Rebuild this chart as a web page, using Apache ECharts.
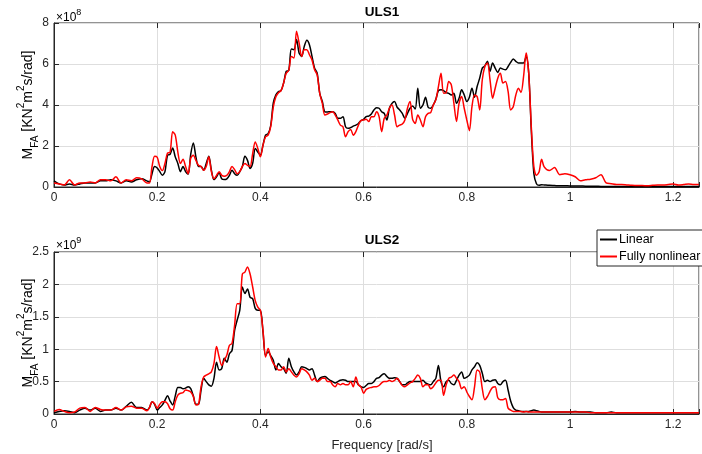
<!DOCTYPE html>
<html>
<head>
<meta charset="utf-8">
<script src="https://cdn.jsdelivr.net/npm/echarts@6/dist/echarts.min.js"></script>
<style>
  html, body { margin: 0; padding: 0; background: #fff; }
  #chart { width: 702px; height: 454px; }
</style>
</head>
<body>
<div id="chart"></div>
<script>
// Frequency grid [rad/s]: 0.01 spacing outside the wave band, 0.005 inside it
function grid(start, count, step) {
  const out = [];
  for (let i = 0; i < count; i++) out.push(+(start + i * step).toFixed(3));
  return out;
}
const freqLow = grid(0, 18, 0.01);      // 0 .. 0.17
const freqMid = grid(0.18, 155, 0.005); // 0.18 .. 0.95
const freqHigh = grid(0.96, 30, 0.01);  // 0.96 .. 1.25
const freq = freqLow.concat(freqMid, freqHigh);

// ULS1 fore-aft moment spectrum, units of 1e8 kN^2 m^2 s/rad
const uls1LinearLow = [0.3,0.15,0.1,0.15,0.1,0.15,0.2,0.2,0.2,0.3,0.3,0.35,0.3,0.2,0.3,0.25,0.35,0.4];
const uls1LinearMid = [
  0.3,0.25,0.65,1.0,0.93,0.75,0.57,0.75,1.55,1.6,
  1.9,1.47,1.15,0.75,1.0,0.75,0.62,1.6,2.15,1.47,
  1.0,1.0,0.82,1.15,1.5,0.82,0.36,0.5,0.7,0.4,
  0.36,0.4,0.57,0.82,0.65,0.57,0.75,1.0,1.5,1.3,
  0.9,1.15,1.88,1.71,1.55,2.04,2.53,2.6,3.0,4.1,
  4.5,4.66,4.7,5.07,5.64,5.69,6.73,6.7,7.19,6.54,
  6.37,6.86,7.16,6.94,6.37,5.8,5.55,4.57,4.17,3.67,
  3.66,3.67,3.67,3.59,3.35,3.35,3.43,2.94,2.86,2.9,
  2.97,3.02,3.1,3.24,3.3,3.43,3.46,3.56,3.76,3.87,
  3.84,3.67,3.59,3.27,3.84,4.08,4.17,3.89,3.76,3.59,
  3.35,3.59,3.84,3.95,3.8,4.82,3.84,4.0,4.38,3.89,
  3.84,4.0,4.28,4.7,4.74,4.7,4.6,4.57,4.49,4.57,
  4.08,4.33,4.74,4.49,4.17,4.38,4.82,4.38,4.9,5.31,
  5.8,5.91,6.13,5.64,6.05,5.8,5.59,5.8,5.75,5.72,
  5.88,6.08,6.24,6.13,6.05,6.05,6.05,6.37,5.55,2.78,
  0.65,0.16,0.08,0.11,0.1
];
const uls1LinearHigh = [0.08,0.07,0.06,0.06,0.05,0.05,0.05,0.04,0.04,0.04,
  0.03,0.03,0.03,0.03,0.03,0.03,0.03,0.03,0.03,0.03,
  0.03,0.03,0.03,0.03,0.03,0.03,0.03,0.03,0.03,0.03];

const uls1NonlinearLow = [0.2,0.15,0.1,0.35,0.1,0.2,0.2,0.25,0.2,0.35,0.35,0.3,0.5,0.2,0.35,0.3,0.45,0.4];
const uls1NonlinearMid = [
  0.2,0.2,1.0,1.5,1.45,1.0,0.8,1.15,1.65,1.7,
  2.7,2.53,1.7,1.15,1.35,1.0,0.65,1.4,1.55,1.3,
  1.06,1.0,0.82,1.0,1.47,0.75,0.4,0.57,0.75,0.57,
  0.52,0.57,0.75,1.0,0.85,0.65,0.75,1.0,1.15,1.06,
  1.0,1.63,2.2,1.88,1.47,2.04,2.45,2.53,2.94,3.9,
  4.4,4.6,4.7,5.07,5.55,5.69,6.37,6.29,7.6,7.03,
  6.37,6.7,6.7,6.45,6.2,5.72,5.47,4.57,4.08,3.51,
  3.56,3.63,3.67,3.51,3.27,3.02,2.94,2.45,2.7,2.81,
  2.53,2.7,3.02,3.24,3.27,3.3,3.19,3.43,3.43,3.67,
  3.43,2.7,3.35,3.51,3.84,4.0,3.51,2.94,3.02,3.07,
  3.27,3.84,4.17,3.3,3.1,3.51,3.27,2.94,3.43,3.59,
  3.63,4.0,4.25,4.9,5.55,4.57,4.6,5.15,4.98,4.08,
  3.2,4.08,4.41,3.84,3.27,2.75,3.92,4.49,4.41,3.76,
  5.23,5.88,6.05,5.23,4.33,4.82,5.31,5.55,5.07,5.15,
  4.66,3.76,3.92,4.49,4.82,4.61,5.39,6.54,5.55,2.94,
  0.98,0.57,0.73,1.35,0.98
];
const uls1NonlinearHigh = [0.8,0.95,0.6,0.65,0.6,0.5,0.3,0.35,0.38,0.45,
  0.6,0.2,0.16,0.12,0.12,0.1,0.08,0.07,0.07,0.06,
  0.08,0.1,0.1,0.12,0.15,0.1,0.12,0.15,0.12,0.12];

// ULS2 fore-aft moment spectrum, units of 1e9 kN^2 m^2 s/rad
const uls2LinearLow = [0.02,0.04,0.05,0.04,0.02,0.06,0.09,0.06,0.09,0.04,0.06,0.06,0.09,0.06,0.12,0.18,0.1,0.1];
const uls2LinearMid = [
  0.06,0.1,0.19,0.15,0.06,0.1,0.14,0.21,0.28,0.2,
  0.14,0.28,0.41,0.41,0.39,0.4,0.42,0.39,0.28,0.15,
  0.15,0.37,0.55,0.5,0.45,0.43,0.55,0.8,0.68,0.7,
  0.86,0.8,0.93,0.98,1.29,1.45,1.6,1.96,1.86,1.93,
  1.8,1.78,1.63,1.6,1.6,1.27,0.9,0.96,0.9,0.83,
  0.68,0.78,0.73,0.7,0.63,0.86,0.73,0.65,0.6,0.65,
  0.73,0.72,0.7,0.68,0.7,0.6,0.5,0.55,0.57,0.58,
  0.55,0.52,0.5,0.48,0.5,0.52,0.53,0.52,0.5,0.5,
  0.5,0.5,0.45,0.42,0.41,0.44,0.47,0.47,0.5,0.55,
  0.56,0.6,0.62,0.58,0.55,0.55,0.56,0.55,0.5,0.45,
  0.45,0.48,0.5,0.5,0.5,0.5,0.5,0.52,0.48,0.46,
  0.45,0.5,0.55,0.75,0.5,0.42,0.5,0.52,0.47,0.45,
  0.52,0.6,0.65,0.55,0.57,0.6,0.68,0.73,0.79,0.75,
  0.63,0.5,0.52,0.5,0.52,0.53,0.47,0.45,0.5,0.52,
  0.37,0.2,0.1,0.06,0.05,0.04,0.04,0.04,0.04,0.05,
  0.06,0.05,0.04,0.03,0.03
];
const uls2LinearHigh = [0.03,0.03,0.03,0.03,0.03,0.04,0.03,0.03,0.03,0.02,
  0.02,0.02,0.03,0.02,0.02,0.02,0.02,0.02,0.02,0.02,
  0.02,0.02,0.02,0.02,0.02,0.02,0.02,0.02,0.02,0.02];

const uls2NonlinearLow = [0.04,0.07,0.04,0.02,0.03,0.09,0.1,0.04,0.1,0.07,0.06,0.06,0.1,0.06,0.11,0.12,0.09,0.09];
const uls2NonlinearMid = [
  0.05,0.1,0.19,0.16,0.09,0.15,0.19,0.19,0.16,0.08,
  0.06,0.19,0.29,0.32,0.33,0.37,0.36,0.34,0.27,0.14,
  0.15,0.42,0.57,0.6,0.62,0.65,0.78,1.04,0.88,0.75,
  0.83,0.91,1.06,1.09,1.37,1.7,1.7,2.16,2.19,2.27,
  2.16,1.96,1.75,1.65,1.6,1.29,0.88,1.01,0.88,0.78,
  0.73,0.68,0.68,0.73,0.65,0.7,0.65,0.6,0.57,0.62,
  0.7,0.68,0.65,0.6,0.52,0.55,0.5,0.52,0.55,0.55,
  0.5,0.5,0.45,0.42,0.47,0.45,0.47,0.45,0.45,0.5,
  0.42,0.57,0.45,0.42,0.32,0.38,0.4,0.41,0.42,0.42,
  0.44,0.48,0.5,0.5,0.52,0.5,0.52,0.55,0.5,0.44,
  0.42,0.45,0.48,0.5,0.55,0.6,0.55,0.42,0.45,0.45,
  0.39,0.42,0.48,0.52,0.52,0.29,0.45,0.55,0.57,0.6,
  0.55,0.5,0.39,0.42,0.34,0.27,0.22,0.42,0.68,0.65,
  0.39,0.22,0.27,0.35,0.41,0.42,0.25,0.22,0.22,0.24,
  0.09,0.06,0.04,0.04,0.04,0.04,0.03,0.04,0.03,0.03,
  0.03,0.03,0.03,0.03,0.03
];
const uls2NonlinearHigh = [0.03,0.03,0.03,0.03,0.03,0.03,0.03,0.03,0.02,0.02,
  0.02,0.02,0.02,0.02,0.02,0.02,0.02,0.02,0.02,0.02,
  0.02,0.02,0.02,0.02,0.02,0.02,0.02,0.02,0.02,0.02];

// Tick positions
const freqTicks = [0, 0.2, 0.4, 0.6, 0.8, 1, 1.2];
const uls1Ticks = [0, 2, 4, 6, 8];
const uls2Ticks = [0, 0.5, 1, 1.5, 2, 2.5];

const seriesNames = ['Linear', 'Fully nonlinear'];
const seriesColors = ['#000000', '#ff0000'];

function pairs(low, mid, high) {
  const vals = low.concat(mid, high);
  if (vals.length !== freq.length) throw new Error('length mismatch ' + vals.length + ' vs ' + freq.length);
  return freq.map((f, i) => [f, vals[i]]);
}

const FONT = '"Liberation Sans", Arial, Helvetica, sans-serif';
const INK = '#262626';
const GRIDLINE = '#dedede';
const X_MAX = 1.25;

function xAxisFor(gridIndex, position) {
  const bottom = position === 'bottom';
  return {
    type: 'value', gridIndex, position, min: 0, max: X_MAX, interval: 0.2,
    axisLine: { show: bottom, lineStyle: { color: INK, width: 1 } },
    axisTick: { show: true, inside: true, length: 5, lineStyle: { color: INK } },
    axisLabel: {
      show: bottom, margin: 5, color: INK, fontFamily: FONT, fontSize: 12,
      formatter: v => freqTicks.some(t => Math.abs(t - v) < 1e-9) ? String(v) : ''
    },
    splitLine: { show: bottom, lineStyle: { color: GRIDLINE, width: 1 } }
  };
}

function yAxisFor(gridIndex, ticks) {
  return {
    type: 'value', gridIndex, min: ticks[0], max: ticks[ticks.length - 1],
    interval: ticks[1] - ticks[0],
    axisLine: { show: true, lineStyle: { color: INK, width: 1 } },
    axisTick: { show: true, inside: true, length: 5, lineStyle: { color: INK } },
    axisLabel: { margin: 5, color: INK, fontFamily: FONT, fontSize: 12 },
    splitLine: { show: true, lineStyle: { color: GRIDLINE, width: 1 } }
  };
}

function lineSeries(name, color, xIdx, yIdx, data) {
  return {
    name, type: 'line', xAxisIndex: xIdx, yAxisIndex: yIdx, data,
    showSymbol: false, symbol: 'none', smooth: 0.3,
    lineStyle: { color, width: 1.5 }, itemStyle: { color },
    emphasis: { disabled: true }
  };
}

const richLabel = {
  m: { fontFamily: FONT, fontSize: 14, lineHeight: 24, color: INK, verticalAlign: 'middle' },
  sub: { fontFamily: FONT, fontSize: 10, lineHeight: 10, color: INK, verticalAlign: 'bottom' },
  sup: { fontFamily: FONT, fontSize: 10, lineHeight: 10, color: INK, verticalAlign: 'top' }
};
const yTitle = '{m|M}{sub|FA}{m| [KN}{sup|2}{m|m}{sup|2}{m|s/rad]}';

const expRich = {
  a: { fontFamily: FONT, fontSize: 12, lineHeight: 16, color: INK, verticalAlign: 'bottom' },
  e: { fontFamily: FONT, fontSize: 9, lineHeight: 16, color: INK, verticalAlign: 'top' }
};

function text(x, y, str, extra) {
  return { type: 'text', x, y, silent: true,
    style: Object.assign({ text: str, fill: INK, font: '12px ' + FONT, align: 'center', verticalAlign: 'middle' }, extra || {}) };
}

const chart = echarts.init(document.getElementById('chart'), null, { renderer: 'canvas' });
chart.setOption({
  animation: false,
  backgroundColor: '#ffffff',
  grid: [
    { left: 54, top: 23, width: 656, height: 164, show: true, borderColor: INK, borderWidth: 1, backgroundColor: '#fff' },
    { left: 54, top: 252, width: 656, height: 162, show: true, borderColor: INK, borderWidth: 1, backgroundColor: '#fff' }
  ],
  xAxis: [xAxisFor(0, 'bottom'), xAxisFor(0, 'top'), xAxisFor(1, 'bottom'), xAxisFor(1, 'top')],
  yAxis: [yAxisFor(0, uls1Ticks), yAxisFor(1, uls2Ticks)],
  legend: {
    data: seriesNames, orient: 'vertical', left: 597, top: 230,
    icon: 'rect', itemWidth: 17, itemHeight: 2, itemGap: 2,
    padding: [2, 12, 2, 3],
    backgroundColor: '#ffffff', borderColor: INK, borderWidth: 1, borderRadius: 0,
    textStyle: { fontFamily: FONT, fontSize: 12.5, color: '#000', lineHeight: 15, padding: [0, 0, 0, -3] },
    selectedMode: false
  },
  series: [
    lineSeries(seriesNames[0], seriesColors[0], 0, 0, pairs(uls1LinearLow, uls1LinearMid, uls1LinearHigh)),
    lineSeries(seriesNames[1], seriesColors[1], 0, 0, pairs(uls1NonlinearLow, uls1NonlinearMid, uls1NonlinearHigh)),
    lineSeries(seriesNames[0], seriesColors[0], 2, 1, pairs(uls2LinearLow, uls2LinearMid, uls2LinearHigh)),
    lineSeries(seriesNames[1], seriesColors[1], 2, 1, pairs(uls2NonlinearLow, uls2NonlinearMid, uls2NonlinearHigh))
  ],
  graphic: [
    text(382, 12, 'ULS1', { font: 'bold 13.5px ' + FONT, fill: '#000' }),
    text(382, 240, 'ULS2', { font: 'bold 13.5px ' + FONT, fill: '#000' }),
    text(382, 445, 'Frequency [rad/s]', { font: '13px ' + FONT }),
    { type: 'text', x: 56, y: 16, silent: true,
      style: { text: '{a|×10}{e|8}', rich: expRich, align: 'left', verticalAlign: 'middle' } },
    { type: 'text', x: 56, y: 244, silent: true,
      style: { text: '{a|×10}{e|9}', rich: expRich, align: 'left', verticalAlign: 'middle' } },
    { type: 'text', x: 28, y: 105, rotation: Math.PI / 2, silent: true,
      style: { text: yTitle, rich: richLabel, align: 'center', verticalAlign: 'middle' } },
    { type: 'text', x: 28, y: 333, rotation: Math.PI / 2, silent: true,
      style: { text: yTitle, rich: richLabel, align: 'center', verticalAlign: 'middle' } }
  ]
});
</script>
</body>
</html>
